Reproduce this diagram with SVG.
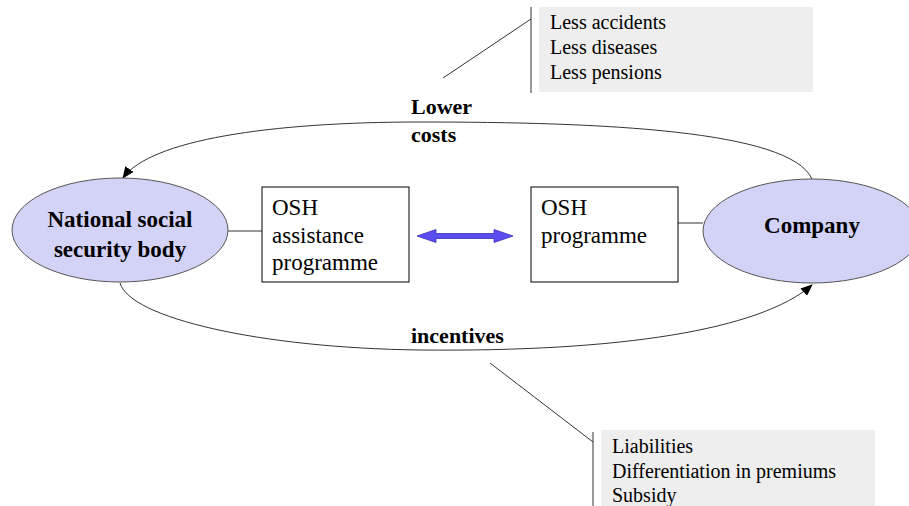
<svg xmlns="http://www.w3.org/2000/svg" width="909" height="506" viewBox="0 0 909 506">
<defs>
<style>
text{font-family:'Liberation Serif','DejaVu Serif',serif;fill:#000}
.b{font-weight:bold}
.ln{stroke:#333;stroke-width:1;fill:none}
.ell{fill:#d3d3f7;stroke:#555;stroke-width:1}
.box{fill:#fff;stroke:#000;stroke-width:1}
.call{fill:#eeeeee;stroke:none}
</style>
<marker id="ah" markerWidth="12" markerHeight="10" refX="11" refY="5" orient="auto" markerUnits="userSpaceOnUse">
<path d="M0,0 L12,5 L0,10 z" fill="#000"/>
</marker>
</defs>
<rect width="909" height="506" fill="#fff"/>
<g id="connectors">
<path class="ln" d="M812 179 C790 130 600 122 420 122 C270 122 150 140 123 178" marker-end="url(#ah)"/>
<path class="ln" d="M120 283 C130 318 260 348 420 350 C620 352 760 330 812 285" marker-end="url(#ah)"/>
<line class="ln" x1="228" y1="231" x2="262" y2="231"/>
<line class="ln" x1="678" y1="223" x2="703" y2="223"/>
<line class="ln" x1="531" y1="19" x2="443" y2="78"/>
<line class="ln" x1="490" y1="363" x2="593" y2="442"/>
<path d="M417 236 L436 229.5 L436 233.5 L494 233.5 L494 229.5 L513 236 L494 242.5 L494 238.5 L436 238.5 L436 242.5 z" fill="#5b4ef0" stroke="#3a2fb0" stroke-width="0.8"/>
</g>
<g id="callout-top">
<rect class="call" x="539" y="7" width="274" height="85"/>
<line class="ln" x1="531" y1="7" x2="531" y2="93" stroke="#000"/>
<text x="550" y="29" font-size="20">Less accidents</text>
<text x="550" y="54" font-size="20">Less diseases</text>
<text x="550" y="79" font-size="20">Less pensions</text>
</g>
<g id="label-lower">
<text class="b" x="411" y="114" font-size="22">Lower</text>
<text class="b" x="411" y="142" font-size="22">costs</text>
</g>
<g id="node-nssb">
<ellipse class="ell" cx="120" cy="230" rx="108" ry="52"/>
<text class="b" x="120" y="227" font-size="23" text-anchor="middle">National social</text>
<text class="b" x="120" y="257" font-size="23" text-anchor="middle">security body</text>
</g>
<g id="node-assist">
<rect class="box" x="262" y="187" width="147" height="95"/>
<text x="272" y="215" font-size="23">OSH</text>
<text x="272" y="243" font-size="23">assistance</text>
<text x="272" y="270" font-size="23">programme</text>
</g>
<g id="node-prog">
<rect class="box" x="531" y="187" width="147" height="95"/>
<text x="541" y="215" font-size="23">OSH</text>
<text x="541" y="243" font-size="23">programme</text>
</g>
<g id="node-company">
<ellipse class="ell" cx="812" cy="231" rx="109" ry="52"/>
<text class="b" x="812" y="233" font-size="23" text-anchor="middle">Company</text>
</g>
<g id="label-incentives">
<text class="b" x="411" y="343" font-size="22">incentives</text>
</g>
<g id="callout-bottom">
<rect class="call" x="601" y="430" width="274" height="76"/>
<line class="ln" x1="593" y1="432" x2="593" y2="506" stroke="#000"/>
<text x="612" y="453" font-size="20">Liabilities</text>
<text x="612" y="478" font-size="20">Differentiation in premiums</text>
<text x="612" y="502" font-size="20">Subsidy</text>
</g>
</svg>
